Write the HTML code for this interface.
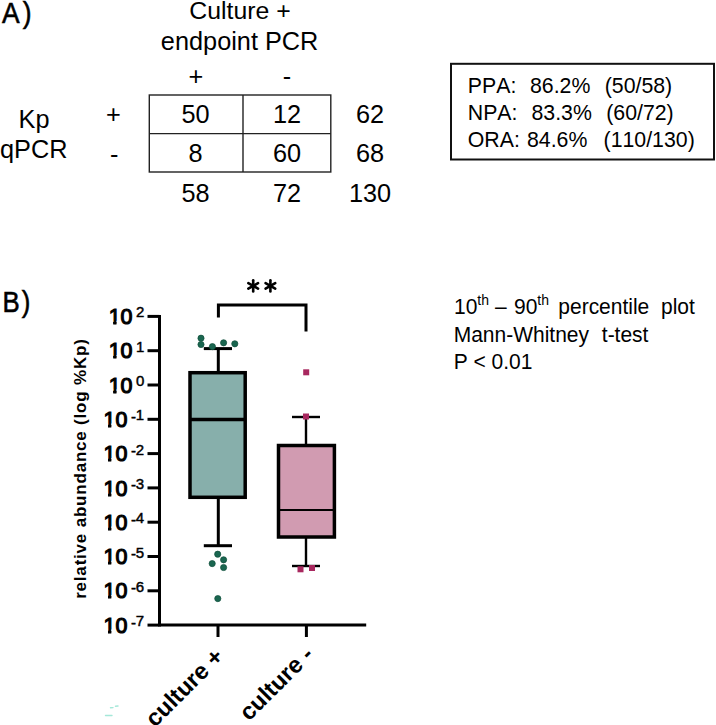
<!DOCTYPE html><html><head><meta charset="utf-8"><style>
html,body{margin:0;padding:0;background:#fff;width:716px;height:725px;overflow:hidden}
svg{display:block}
text{font-family:"Liberation Sans",sans-serif;fill:#000;font-kerning:none;white-space:pre}
.b{font-weight:bold}
</style></head><body>
<svg width="716" height="725" viewBox="0 0 716 725">

<g transform="translate(1.9,23.4) scale(0.88,1)"><text x="0" y="0" font-size="30" stroke="#000" stroke-width="0.6" letter-spacing="3.6">A)</text></g>
<text transform="translate(240,19) scale(1,1)" x="0" y="0" font-size="24.8" text-anchor="middle">Culture +</text>
<text transform="translate(239.6,49.5) scale(1,1)" x="0" y="0" font-size="25.3" text-anchor="middle">endpoint PCR</text>
<text transform="translate(196,84.5) scale(1,1)" x="0" y="0" font-size="25.3" text-anchor="middle">+</text>
<text transform="translate(287,84.5) scale(1,1)" x="0" y="0" font-size="25.3" text-anchor="middle">-</text>
<text transform="translate(18.6,127.6) scale(1,1)" x="0" y="0" font-size="25.3">Kp</text>
<text transform="translate(0,158) scale(1,1)" x="0" y="0" font-size="25.3">qPCR</text>
<text transform="translate(113.4,122.5) scale(1,1)" x="0" y="0" font-size="25.3" text-anchor="middle">+</text>
<text transform="translate(114.2,163) scale(1,1)" x="0" y="0" font-size="25.3" text-anchor="middle">-</text>
<g stroke="#222" stroke-width="1.4" fill="none"><rect x="149.3" y="95" width="181.5" height="77"/><line x1="149.3" y1="133.6" x2="330.8" y2="133.6"/><line x1="243" y1="95" x2="243" y2="172"/></g>
<text transform="translate(195.5,123.4) scale(1,1)" x="0" y="0" font-size="25.3" text-anchor="middle">50</text>
<text transform="translate(195.5,162.0) scale(1,1)" x="0" y="0" font-size="25.3" text-anchor="middle">8</text>
<text transform="translate(195.5,201.7) scale(1,1)" x="0" y="0" font-size="25.3" text-anchor="middle">58</text>
<text transform="translate(287,123.4) scale(1,1)" x="0" y="0" font-size="25.3" text-anchor="middle">12</text>
<text transform="translate(287,162.0) scale(1,1)" x="0" y="0" font-size="25.3" text-anchor="middle">60</text>
<text transform="translate(287,201.7) scale(1,1)" x="0" y="0" font-size="25.3" text-anchor="middle">72</text>
<text transform="translate(370,123.4) scale(1,1)" x="0" y="0" font-size="25.3" text-anchor="middle">62</text>
<text transform="translate(370,162.0) scale(1,1)" x="0" y="0" font-size="25.3" text-anchor="middle">68</text>
<text transform="translate(370,201.7) scale(1,1)" x="0" y="0" font-size="25.3" text-anchor="middle">130</text>
<rect x="451" y="63.8" width="263" height="95.7" fill="none" stroke="#111" stroke-width="2"/>
<text transform="translate(467.8,93.39999999999999) scale(1,1.05)" x="0" y="0" font-size="21.3">PPA:</text>
<text transform="translate(530,93.39999999999999) scale(1,1.05)" x="0" y="0" font-size="21.3">86.2%</text>
<text transform="translate(604.7,93.39999999999999) scale(1,1.05)" x="0" y="0" font-size="21.3">(50/58)</text>
<text transform="translate(467.8,120.39999999999999) scale(1,1.05)" x="0" y="0" font-size="21.3">NPA:</text>
<text transform="translate(531.5,120.39999999999999) scale(1,1.05)" x="0" y="0" font-size="21.3">83.3%</text>
<text transform="translate(606.2,120.39999999999999) scale(1,1.05)" x="0" y="0" font-size="21.3">(60/72)</text>
<text transform="translate(467.8,147.20000000000002) scale(1,1.05)" x="0" y="0" font-size="21.3">ORA:</text>
<text transform="translate(527,147.20000000000002) scale(1,1.05)" x="0" y="0" font-size="21.3">84.6%</text>
<text transform="translate(603.6,147.20000000000002) scale(1,1.05)" x="0" y="0" font-size="21.3">(110/130)</text>
<g transform="translate(2.6,312.4) scale(0.86,1)"><text x="0" y="0" font-size="30" stroke="#000" stroke-width="0.6" letter-spacing="2.2">B)</text></g>
<text transform="translate(454,314.1) scale(1,1.04)" x="0" y="0" font-size="21">10<tspan font-size="14" dy="-8.5">th</tspan></text>
<text transform="translate(495,314.1) scale(1,1.04)" x="0" y="0" font-size="21">–</text>
<text transform="translate(514,314.1) scale(1,1.04)" x="0" y="0" font-size="21">90<tspan font-size="14" dy="-8.5">th</tspan></text>
<text transform="translate(558.3,314.1) scale(1,1.04)" x="0" y="0" font-size="21">percentile</text>
<text transform="translate(661,314.1) scale(1,1.04)" x="0" y="0" font-size="21">plot</text>
<text transform="translate(453.7,341.7) scale(1,1.04)" x="0" y="0" font-size="21">Mann-Whitney</text>
<text transform="translate(601.8,341.7) scale(1,1.04)" x="0" y="0" font-size="21">t-test</text>
<text transform="translate(453.7,368.9) scale(1,1.04)" x="0" y="0" font-size="21">P &lt; 0.01</text>
<g stroke="#000" stroke-width="2.6" stroke-linecap="round"><line x1="253.20" y1="280.30" x2="253.20" y2="291.50"/><line x1="248.35" y1="283.10" x2="258.05" y2="288.70"/><line x1="248.35" y1="288.70" x2="258.05" y2="283.10"/><line x1="270.40" y1="280.30" x2="270.40" y2="291.50"/><line x1="265.55" y1="283.10" x2="275.25" y2="288.70"/><line x1="265.55" y1="288.70" x2="275.25" y2="283.10"/></g>
<path d="M218.4,317.5 V305 H306 V331.6" fill="none" stroke="#000" stroke-width="3"/>
<g stroke="#000" stroke-width="3" fill="none">
<line x1="159.5" y1="314.9" x2="159.5" y2="626.5999999999999"/>
<line x1="147.5" y1="316.4" x2="159.5" y2="316.4"/>
<line x1="147.5" y1="350.7" x2="159.5" y2="350.7"/>
<line x1="147.5" y1="385.0" x2="159.5" y2="385.0"/>
<line x1="147.5" y1="419.29999999999995" x2="159.5" y2="419.29999999999995"/>
<line x1="147.5" y1="453.59999999999997" x2="159.5" y2="453.59999999999997"/>
<line x1="147.5" y1="487.9" x2="159.5" y2="487.9"/>
<line x1="147.5" y1="522.1999999999999" x2="159.5" y2="522.1999999999999"/>
<line x1="147.5" y1="556.5" x2="159.5" y2="556.5"/>
<line x1="147.5" y1="590.8" x2="159.5" y2="590.8"/>
<line x1="147.5" y1="625.0999999999999" x2="159.5" y2="625.0999999999999"/>
<line x1="159.5" y1="625.0999999999999" x2="366.2" y2="625.0999999999999"/>
<line x1="218" y1="625.0999999999999" x2="218" y2="637"/><line x1="306.4" y1="625.0999999999999" x2="306.4" y2="637"/>
</g>
<clipPath id="cf0"><path clip-rule="evenodd" d="M0,0H716V725H0Z M108.3,320.7h4.9v6h-4.9Z M116.5,320.7h4.5v6h-4.5Z"/></clipPath>
<g clip-path="url(#cf0)"><g transform="translate(120.58,324.0) scale(0.94,1)"><text x="0" y="0" text-anchor="end" font-size="22.8" stroke="#000" stroke-width="1.2">1</text></g></g>
<g transform="translate(132.5,324.0) scale(0.94,1)"><text x="0" y="0" text-anchor="end" font-size="22.8" stroke="#000" stroke-width="1.2">0</text></g>
<text x="136" y="317.4" font-size="15" stroke="#000" stroke-width="0.45">2</text>
<clipPath id="cf1"><path clip-rule="evenodd" d="M0,0H716V725H0Z M108.3,355.0h4.9v6h-4.9Z M116.5,355.0h4.5v6h-4.5Z"/></clipPath>
<g clip-path="url(#cf1)"><g transform="translate(120.58,358.3) scale(0.94,1)"><text x="0" y="0" text-anchor="end" font-size="22.8" stroke="#000" stroke-width="1.2">1</text></g></g>
<g transform="translate(132.5,358.3) scale(0.94,1)"><text x="0" y="0" text-anchor="end" font-size="22.8" stroke="#000" stroke-width="1.2">0</text></g>
<text x="136" y="351.7" font-size="15" stroke="#000" stroke-width="0.45">1</text>
<clipPath id="cf2"><path clip-rule="evenodd" d="M0,0H716V725H0Z M108.3,389.3h4.9v6h-4.9Z M116.5,389.3h4.5v6h-4.5Z"/></clipPath>
<g clip-path="url(#cf2)"><g transform="translate(120.58,392.6) scale(0.94,1)"><text x="0" y="0" text-anchor="end" font-size="22.8" stroke="#000" stroke-width="1.2">1</text></g></g>
<g transform="translate(132.5,392.6) scale(0.94,1)"><text x="0" y="0" text-anchor="end" font-size="22.8" stroke="#000" stroke-width="1.2">0</text></g>
<text x="136" y="386.0" font-size="15" stroke="#000" stroke-width="0.45">0</text>
<clipPath id="cf3"><path clip-rule="evenodd" d="M0,0H716V725H0Z M103.1,423.6h4.9v6h-4.9Z M111.3,423.6h4.5v6h-4.5Z"/></clipPath>
<g clip-path="url(#cf3)"><g transform="translate(115.38,426.9) scale(0.94,1)"><text x="0" y="0" text-anchor="end" font-size="22.8" stroke="#000" stroke-width="1.2">1</text></g></g>
<g transform="translate(127.3,426.9) scale(0.94,1)"><text x="0" y="0" text-anchor="end" font-size="22.8" stroke="#000" stroke-width="1.2">0</text></g>
<text x="131" y="421.8" font-size="15" stroke="#000" stroke-width="0.45">-</text>
<text x="135.8" y="420.3" font-size="15" stroke="#000" stroke-width="0.45">1</text>
<clipPath id="cf4"><path clip-rule="evenodd" d="M0,0H716V725H0Z M103.1,457.9h4.9v6h-4.9Z M111.3,457.9h4.5v6h-4.5Z"/></clipPath>
<g clip-path="url(#cf4)"><g transform="translate(115.38,461.2) scale(0.94,1)"><text x="0" y="0" text-anchor="end" font-size="22.8" stroke="#000" stroke-width="1.2">1</text></g></g>
<g transform="translate(127.3,461.2) scale(0.94,1)"><text x="0" y="0" text-anchor="end" font-size="22.8" stroke="#000" stroke-width="1.2">0</text></g>
<text x="131" y="456.1" font-size="15" stroke="#000" stroke-width="0.45">-</text>
<text x="135.8" y="454.6" font-size="15" stroke="#000" stroke-width="0.45">2</text>
<clipPath id="cf5"><path clip-rule="evenodd" d="M0,0H716V725H0Z M103.1,492.2h4.9v6h-4.9Z M111.3,492.2h4.5v6h-4.5Z"/></clipPath>
<g clip-path="url(#cf5)"><g transform="translate(115.38,495.5) scale(0.94,1)"><text x="0" y="0" text-anchor="end" font-size="22.8" stroke="#000" stroke-width="1.2">1</text></g></g>
<g transform="translate(127.3,495.5) scale(0.94,1)"><text x="0" y="0" text-anchor="end" font-size="22.8" stroke="#000" stroke-width="1.2">0</text></g>
<text x="131" y="490.4" font-size="15" stroke="#000" stroke-width="0.45">-</text>
<text x="135.8" y="488.9" font-size="15" stroke="#000" stroke-width="0.45">3</text>
<clipPath id="cf6"><path clip-rule="evenodd" d="M0,0H716V725H0Z M103.1,526.5h4.9v6h-4.9Z M111.3,526.5h4.5v6h-4.5Z"/></clipPath>
<g clip-path="url(#cf6)"><g transform="translate(115.38,529.8) scale(0.94,1)"><text x="0" y="0" text-anchor="end" font-size="22.8" stroke="#000" stroke-width="1.2">1</text></g></g>
<g transform="translate(127.3,529.8) scale(0.94,1)"><text x="0" y="0" text-anchor="end" font-size="22.8" stroke="#000" stroke-width="1.2">0</text></g>
<text x="131" y="524.7" font-size="15" stroke="#000" stroke-width="0.45">-</text>
<text x="135.8" y="523.2" font-size="15" stroke="#000" stroke-width="0.45">4</text>
<clipPath id="cf7"><path clip-rule="evenodd" d="M0,0H716V725H0Z M103.1,560.8h4.9v6h-4.9Z M111.3,560.8h4.5v6h-4.5Z"/></clipPath>
<g clip-path="url(#cf7)"><g transform="translate(115.38,564.1) scale(0.94,1)"><text x="0" y="0" text-anchor="end" font-size="22.8" stroke="#000" stroke-width="1.2">1</text></g></g>
<g transform="translate(127.3,564.1) scale(0.94,1)"><text x="0" y="0" text-anchor="end" font-size="22.8" stroke="#000" stroke-width="1.2">0</text></g>
<text x="131" y="559.0" font-size="15" stroke="#000" stroke-width="0.45">-</text>
<text x="135.8" y="557.5" font-size="15" stroke="#000" stroke-width="0.45">5</text>
<clipPath id="cf8"><path clip-rule="evenodd" d="M0,0H716V725H0Z M103.1,595.1h4.9v6h-4.9Z M111.3,595.1h4.5v6h-4.5Z"/></clipPath>
<g clip-path="url(#cf8)"><g transform="translate(115.38,598.4) scale(0.94,1)"><text x="0" y="0" text-anchor="end" font-size="22.8" stroke="#000" stroke-width="1.2">1</text></g></g>
<g transform="translate(127.3,598.4) scale(0.94,1)"><text x="0" y="0" text-anchor="end" font-size="22.8" stroke="#000" stroke-width="1.2">0</text></g>
<text x="131" y="593.3" font-size="15" stroke="#000" stroke-width="0.45">-</text>
<text x="135.8" y="591.8" font-size="15" stroke="#000" stroke-width="0.45">6</text>
<clipPath id="cf9"><path clip-rule="evenodd" d="M0,0H716V725H0Z M103.1,629.4h4.9v6h-4.9Z M111.3,629.4h4.5v6h-4.5Z"/></clipPath>
<g clip-path="url(#cf9)"><g transform="translate(115.38,632.7) scale(0.94,1)"><text x="0" y="0" text-anchor="end" font-size="22.8" stroke="#000" stroke-width="1.2">1</text></g></g>
<g transform="translate(127.3,632.7) scale(0.94,1)"><text x="0" y="0" text-anchor="end" font-size="22.8" stroke="#000" stroke-width="1.2">0</text></g>
<text x="131" y="627.6" font-size="15" stroke="#000" stroke-width="0.45">-</text>
<text x="135.8" y="626.1" font-size="15" stroke="#000" stroke-width="0.45">7</text>
<text transform="translate(85.6,468.6) rotate(-90)" text-anchor="middle" font-size="17" class="b" letter-spacing="0.8">relative abundance (log %Kp)</text>
<g stroke="#000" stroke-width="3" fill="none">
<line x1="218.3" y1="348.6" x2="218.3" y2="372.7"/><line x1="203.8" y1="348.6" x2="232" y2="348.6"/>
<line x1="218.3" y1="497.3" x2="218.3" y2="545.7"/><line x1="203.8" y1="545.7" x2="232" y2="545.7"/>
</g>
<rect x="190" y="372.7" width="55.2" height="124.6" fill="#87AFAB" stroke="#000" stroke-width="3.5"/>
<line x1="190" y1="419.5" x2="245.2" y2="419.5" stroke="#000" stroke-width="3.5"/>
<g stroke="#000" stroke-width="2.4" fill="none">
<line x1="306" y1="417" x2="306" y2="445.5"/><line x1="292" y1="417" x2="320" y2="417"/>
<line x1="306" y1="537" x2="306" y2="566"/><line x1="292" y1="566" x2="320" y2="566"/>
</g>
<rect x="278.5" y="445.5" width="55.9" height="91.5" fill="#D19BB1" stroke="#000" stroke-width="3.5"/>
<line x1="278.5" y1="510" x2="334.4" y2="510" stroke="#000" stroke-width="2.2"/>
<circle cx="201" cy="338.2" r="3.1" fill="#1A6650" stroke="#0E4D3A" stroke-width="0.7"/>
<circle cx="201" cy="344.5" r="3.1" fill="#1A6650" stroke="#0E4D3A" stroke-width="0.7"/>
<circle cx="212.4" cy="346.6" r="3.1" fill="#1A6650" stroke="#0E4D3A" stroke-width="0.7"/>
<circle cx="223.6" cy="342.8" r="3.1" fill="#1A6650" stroke="#0E4D3A" stroke-width="0.7"/>
<circle cx="234.8" cy="343.8" r="3.1" fill="#1A6650" stroke="#0E4D3A" stroke-width="0.7"/>
<circle cx="217.7" cy="554.2" r="3.1" fill="#1A6650" stroke="#0E4D3A" stroke-width="0.7"/>
<circle cx="223.6" cy="559.8" r="3.1" fill="#1A6650" stroke="#0E4D3A" stroke-width="0.7"/>
<circle cx="212.2" cy="563.6" r="3.1" fill="#1A6650" stroke="#0E4D3A" stroke-width="0.7"/>
<circle cx="223.6" cy="567.5" r="3.1" fill="#1A6650" stroke="#0E4D3A" stroke-width="0.7"/>
<circle cx="217.8" cy="598.6" r="3.1" fill="#1A6650" stroke="#0E4D3A" stroke-width="0.7"/>
<rect x="303.2" y="369.3" width="6" height="6" fill="#A8285F"/>
<rect x="303" y="413.5" width="6" height="6" fill="#A8285F"/>
<rect x="297.5" y="566.3" width="6" height="6" fill="#A8285F"/>
<rect x="309" y="565" width="6" height="6" fill="#A8285F"/>
<text transform="translate(225,658) rotate(-45)" text-anchor="end" font-size="23.6" class="b">culture +</text>
<text transform="translate(314.8,656) rotate(-45)" text-anchor="end" font-size="23.6" class="b">culture -</text>
<g stroke="#8FE3D0" stroke-width="1.4" stroke-linecap="round" opacity="0.8"><line x1="110.5" y1="707.8" x2="113" y2="707.6"/><line x1="115.5" y1="706.2" x2="118" y2="706"/><line x1="105.5" y1="715.5" x2="112" y2="715.5"/></g>
</svg></body></html>
